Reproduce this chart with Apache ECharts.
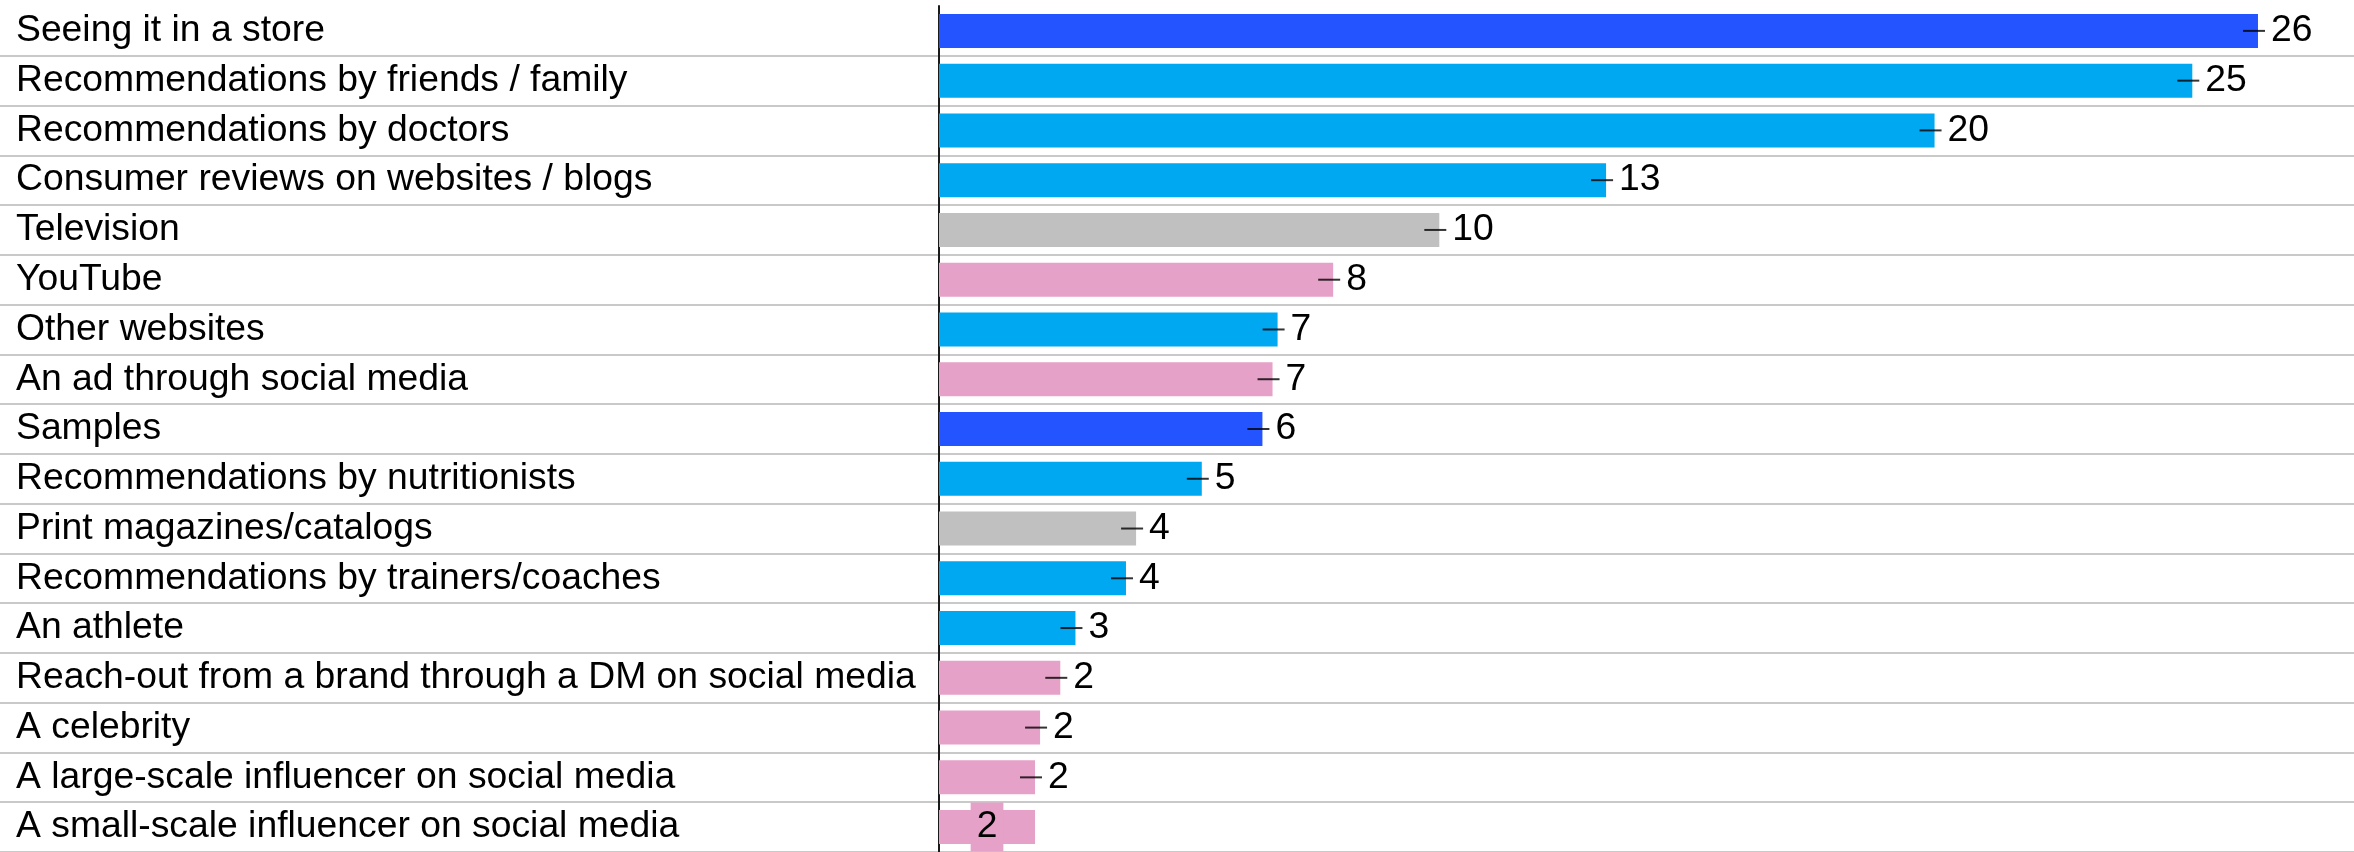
<!DOCTYPE html>
<html>
<head>
<meta charset="utf-8">
<title>Purchase influences</title>
<script src="https://cdn.jsdelivr.net/npm/echarts@6/dist/echarts.min.js"></script>
<style>
  html, body { margin: 0; padding: 0; background: #ffffff; }
  #chart { width: 2354px; height: 852px; }
</style>
</head>
<body>
<div id="chart"></div>
<script>
// Sources that influenced the purchase, share of respondents (%)
const categories = [
  'Seeing it in a store',
  'Recommendations by friends / family',
  'Recommendations by doctors',
  'Consumer reviews on websites / blogs',
  'Television',
  'YouTube',
  'Other websites',
  'An ad through social media',
  'Samples',
  'Recommendations by nutritionists',
  'Print magazines/catalogs',
  'Recommendations by trainers/coaches',
  'An athlete',
  'Reach-out from a brand through a DM on social media',
  'A celebrity',
  'A large-scale influencer on social media',
  'A small-scale influencer on social media'
];

const shares = [26.1, 24.8, 19.7, 13.2, 9.9, 7.8, 6.7, 6.6, 6.4, 5.2, 3.9, 3.7, 2.7, 2.4, 2.0, 1.9, 1.9];

const channelGroup = [
  'inStore', 'people', 'people', 'online', 'traditional', 'social', 'online', 'social',
  'inStore', 'people', 'traditional', 'people', 'people', 'social', 'social', 'social', 'social'
];

const groupColors = {
  inStore: '#2354FF',
  people: '#00A8F1',
  online: '#00A8F1',
  traditional: '#C0C0C0',
  social: '#E6A1C8'
};

const FONT = '"Liberation Sans", Arial, Helvetica, sans-serif';
const FONT_SIZE = 37.3;
const lastIdx = shares.length - 1;

const barData = shares.map((v, i) => {
  const item = { value: v, itemStyle: { color: groupColors[channelGroup[i]] } };
  if (i === lastIdx) {
    // bottom row: value sits inside the bar on a matching badge
    item.label = {
      position: 'inside',
      distance: 0,
      backgroundColor: groupColors[channelGroup[i]],
      padding: [8, 6, 4, 6]
    };
  }
  return item;
});

// short dash drawn across each bar end
const tickData = shares
  .map((v, i) => [v, categories[i]])
  .filter((d, i) => i !== lastIdx);

const chart = echarts.init(document.getElementById('chart'), null, { renderer: 'canvas' });

chart.setOption({
  animation: false,
  backgroundColor: '#ffffff',
  grid: [
    { left: 0, right: 0, top: 6, height: 850 },
    { left: 939, right: 0, top: 6, height: 850 }
  ],
  xAxis: [
    { gridIndex: 0, type: 'value', show: false, min: 0, max: 1 },
    {
      gridIndex: 1, type: 'value', min: 0, max: 28,
      axisLine: { show: false }, axisTick: { show: false },
      axisLabel: { show: false }, splitLine: { show: false }
    }
  ],
  yAxis: [
    {
      gridIndex: 0, type: 'category', data: categories, inverse: true,
      axisLine: { show: false }, axisTick: { show: false },
      axisLabel: {
        inside: true, margin: 16, align: 'left',
        padding: [8, 0, 0, 0],
        color: '#000000', fontFamily: FONT, fontSize: FONT_SIZE
      },
      splitLine: {
        show: true,
        interval: (idx) => idx !== 0,
        lineStyle: { color: '#C9C9C9', width: 2 }
      }
    },
    {
      gridIndex: 1, type: 'category', data: categories, inverse: true,
      axisLine: { show: true, lineStyle: { color: '#1A1A1A', width: 2 } },
      axisTick: { show: false },
      axisLabel: { show: false },
      splitLine: { show: false }
    }
  ],
  series: [
    {
      type: 'bar',
      xAxisIndex: 1, yAxisIndex: 1,
      data: barData,
      barWidth: 34,
      label: {
        show: true,
        position: 'right',
        distance: 13,
        padding: [7, 0, 0, 0],
        color: '#000000',
        fontFamily: FONT,
        fontSize: FONT_SIZE,
        formatter: (p) => String(Math.round(p.value))
      },
      z: 2
    },
    {
      type: 'scatter',
      xAxisIndex: 1, yAxisIndex: 1,
      data: tickData,
      symbol: 'rect',
      symbolSize: [22, 2],
      symbolOffset: [-4, 0],
      itemStyle: { color: '#000000' },
      silent: true,
      z: 3
    }
  ]
});
</script>
</body>
</html>
